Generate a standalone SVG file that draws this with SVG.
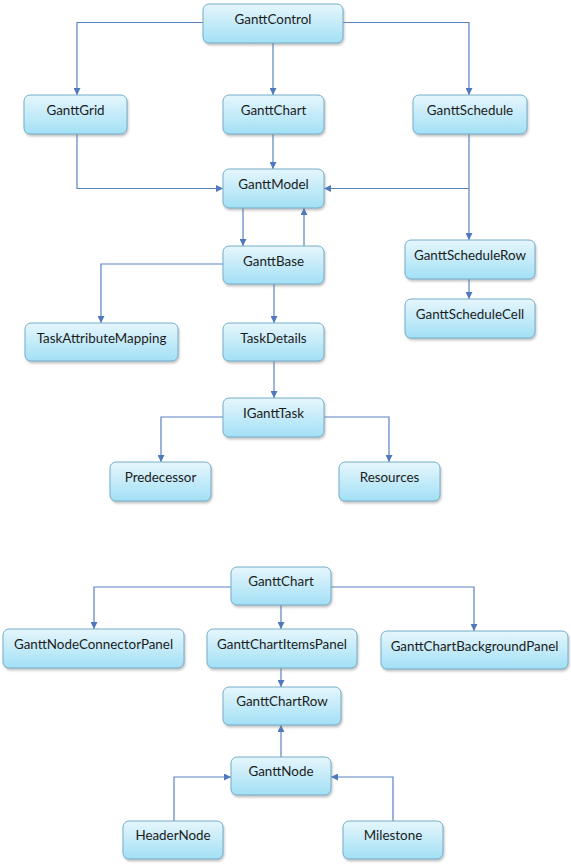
<svg xmlns="http://www.w3.org/2000/svg" width="571" height="864" viewBox="0 0 571 864">
<defs>
<linearGradient id="g" x1="0" y1="0" x2="0" y2="1">
<stop offset="0" stop-color="#e6f6fc"/>
<stop offset="1" stop-color="#a2e0f5"/>
</linearGradient>
<filter id="sh" x="-10%" y="-20%" width="130%" height="160%">
<feDropShadow dx="1" dy="2" stdDeviation="1.2" flood-color="#7a7a7a" flood-opacity="0.45"/>
</filter>
<marker id="a" viewBox="0 0 10 10" refX="10" refY="5" markerWidth="7" markerHeight="7" markerUnits="userSpaceOnUse" orient="auto">
<path d="M0,0 L10,5 L0,10 z" fill="#4f79bd"/>
</marker>
</defs>
<style>
.n rect{fill:url(#g);stroke:#74aec9;stroke-width:1;filter:url(#sh)}
.n text{font-family:Lato,"Open Sans","DejaVu Sans",sans-serif;font-size:13.4px;fill:#1c1c1c;text-anchor:middle}
#edges path{fill:none;stroke:#5b82c0;stroke-width:1.2;marker-end:url(#a)}
</style>
<rect width="571" height="864" fill="#ffffff"/>
<g id="edges">
<path d="M203,22.5 H77 V95"/>
<path d="M273,43 V95"/>
<path d="M343,22.5 H469 V95"/>
<path d="M77,134 V188.5 H223"/>
<path d="M273,134 V169"/>
<path d="M469,134 V240"/>
<path d="M469,188.5 H324"/>
<path d="M243,208 V246"/>
<path d="M304,246 V208"/>
<path d="M223,264 H101 V323"/>
<path d="M274,284 V323"/>
<path d="M274,361 V398"/>
<path d="M223,417 H161 V462"/>
<path d="M324,417 H389 V462"/>
<path d="M469,279 V299"/>
<path d="M231,587 H94 V629"/>
<path d="M281,605 V629"/>
<path d="M331,587 H474 V631"/>
<path d="M281,668 V687"/>
<path d="M281,757 V725"/>
<path d="M174,821 V777 H231"/>
<path d="M393,821 V777 H331"/>
</g>
<g id="GanttControl" class="n"><rect x="203" y="4" width="140" height="39" rx="6"/><text x="273" y="23.5">GanttControl</text></g>
<g id="GanttGrid" class="n"><rect x="24" y="95" width="103" height="39" rx="6"/><text x="75.5" y="114.5">GanttGrid</text></g>
<g id="GanttChart" class="n"><rect x="223" y="95" width="101" height="39" rx="6"/><text x="273.5" y="114.5">GanttChart</text></g>
<g id="GanttSchedule" class="n"><rect x="413" y="95" width="114" height="39" rx="6"/><text x="470" y="114.5">GanttSchedule</text></g>
<g id="GanttModel" class="n"><rect x="223" y="169" width="101" height="39" rx="6"/><text x="273.5" y="189">GanttModel</text></g>
<g id="GanttScheduleRow" class="n"><rect x="405" y="240" width="130" height="39" rx="6"/><text x="470" y="259.5">GanttScheduleRow</text></g>
<g id="GanttScheduleCell" class="n"><rect x="405" y="299" width="130" height="39" rx="6"/><text x="470" y="318.5">GanttScheduleCell</text></g>
<g id="GanttBase" class="n"><rect x="223" y="246" width="101" height="38" rx="6"/><text x="273.5" y="265.5">GanttBase</text></g>
<g id="TaskAttributeMapping" class="n"><rect x="25" y="323" width="153" height="38" rx="6"/><text x="101.5" y="342.5">TaskAttributeMapping</text></g>
<g id="TaskDetails" class="n"><rect x="223" y="323" width="101" height="38" rx="6"/><text x="273.5" y="342.5">TaskDetails</text></g>
<g id="IGanttTask" class="n"><rect x="223" y="398" width="101" height="39" rx="6"/><text x="273.5" y="417.5">IGanttTask</text></g>
<g id="Predecessor" class="n"><rect x="110" y="462" width="101" height="39" rx="6"/><text x="160.5" y="481.5">Predecessor</text></g>
<g id="Resources" class="n"><rect x="339" y="462" width="101" height="39" rx="6"/><text x="389.5" y="481.5">Resources</text></g>
<g id="GanttChart2" class="n"><rect x="231" y="567" width="100" height="38" rx="6"/><text x="281" y="586">GanttChart</text></g>
<g id="GanttNodeConnectorPanel" class="n"><rect x="3" y="629" width="181" height="39" rx="6"/><text x="93.5" y="648.5">GanttNodeConnectorPanel</text></g>
<g id="GanttChartItemsPanel" class="n"><rect x="207" y="629" width="150" height="39" rx="6"/><text x="282" y="648.5">GanttChartItemsPanel</text></g>
<g id="GanttChartBackgroundPanel" class="n"><rect x="381" y="631" width="187" height="38" rx="6"/><text x="474.5" y="650.5">GanttChartBackgroundPanel</text></g>
<g id="GanttChartRow" class="n"><rect x="223" y="687" width="118" height="38" rx="6"/><text x="282" y="706">GanttChartRow</text></g>
<g id="GanttNode" class="n"><rect x="231" y="757" width="100" height="38" rx="6"/><text x="281" y="776">GanttNode</text></g>
<g id="HeaderNode" class="n"><rect x="123" y="821" width="100" height="38" rx="6"/><text x="173" y="840">HeaderNode</text></g>
<g id="Milestone" class="n"><rect x="343" y="821" width="100" height="38" rx="6"/><text x="393" y="840">Milestone</text></g>
</svg>
